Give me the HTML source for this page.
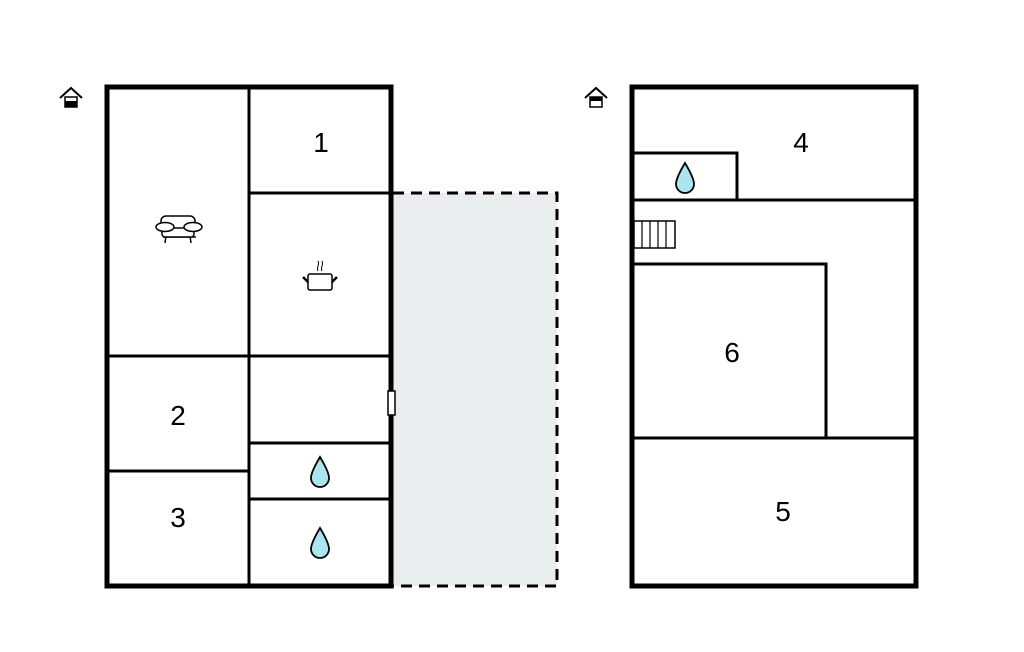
<!DOCTYPE html>
<html><head><meta charset="utf-8"><style>html,body{margin:0;padding:0;background:#fff}svg{display:block}</style></head>
<body>
<svg width="1024" height="652" viewBox="0 0 1024 652" xmlns="http://www.w3.org/2000/svg">
<rect width="1024" height="652" fill="#fff"/>
<!-- dashed terrace -->
<rect x="393" y="193" width="164" height="393" fill="#e9edee"/>
<path d="M393 193 H557 V586 H393" fill="none" stroke="#000" stroke-width="3" stroke-dasharray="11,7"/>
<!-- left building -->
<g stroke="#000" fill="none">
<rect x="107" y="87" width="284" height="499" stroke-width="5"/>
<line x1="249" y1="87" x2="249" y2="586" stroke-width="3"/>
<line x1="107" y1="356" x2="249" y2="356" stroke-width="3"/>
<line x1="107" y1="471" x2="249" y2="471" stroke-width="3"/>
<line x1="249" y1="193" x2="394" y2="193" stroke-width="3"/>
<line x1="249" y1="356" x2="391" y2="356" stroke-width="3"/>
<line x1="249" y1="443" x2="391" y2="443" stroke-width="3"/>
<line x1="249" y1="499" x2="391" y2="499" stroke-width="3"/>
</g>
<rect x="388" y="391" width="7" height="24" fill="#fff" stroke="#000" stroke-width="1.5"/>
<!-- right building -->
<g stroke="#000" fill="none">
<rect x="632" y="87" width="284" height="499" stroke-width="5"/>
<line x1="632" y1="200" x2="916" y2="200" stroke-width="3"/>
<polyline points="634,153 737,153 737,200" stroke-width="3"/>
<polyline points="634,264 826,264 826,438" stroke-width="3"/>
<line x1="632" y1="438" x2="916" y2="438" stroke-width="3"/>
<rect x="634" y="221" width="41" height="27" stroke-width="1.5"/>
<path d="M642 221V248M650 221V248M658 221V248M666 221V248" stroke-width="1.2"/>
</g>
<!-- drops -->
<g fill="#a9e6ef" stroke="#000" stroke-width="1.8">
<path d="M320 457 C326 467 329 474 329 478 A9 9 0 0 1 311 478 C311 474 314 467 320 457Z"/>
<path d="M320 528 C326 538 329 545 329 549 A9 9 0 0 1 311 549 C311 545 314 538 320 528Z"/>
<path d="M685 163 C691 173 694 180 694 184 A9 9 0 0 1 676 184 C676 180 679 173 685 163Z"/>
</g>
<!-- sofa -->
<g fill="#fff" stroke="#000" stroke-width="1.5">
<rect x="161" y="216" width="34" height="16" rx="5"/>
<path d="M163 237 L196 237 M176 233 L176 233"/>
<path d="M166 236 L165 243 M190 236 L191 243"/>
<rect x="162" y="228" width="32" height="9" rx="3"/>
<ellipse cx="165" cy="227" rx="9" ry="4.5"/>
<ellipse cx="193" cy="227" rx="9" ry="4.5"/>
</g>
<!-- pot -->
<g fill="none" stroke="#000" stroke-width="1.5">
<rect x="308" y="274" width="24" height="16" rx="2" fill="#fff"/>
<path d="M303 277 L308 282 M337 277 L332 282" stroke-width="2.5"/>
<path d="M318 271 C316 267 320 265 318 261 M322 271 C320 267 324 265 322 261" stroke-width="1"/>
</g>
<!-- house icons -->
<g>
<path d="M60 98 L71 88 L82 98" fill="none" stroke="#000" stroke-width="2"/>
<rect x="65" y="97" width="12" height="10" fill="#fff" stroke="#000" stroke-width="1.5"/>
<rect x="65" y="101" width="12" height="6" fill="#000"/>
<path d="M585 98 L596 88 L607 98" fill="none" stroke="#000" stroke-width="2"/>
<rect x="590" y="97" width="12" height="10" fill="#fff" stroke="#000" stroke-width="1.5"/>
<rect x="590" y="97" width="12" height="4" fill="#000"/>
</g>
<!-- labels -->
<g font-family="Liberation Sans, sans-serif" font-size="28" text-anchor="middle" fill="#000">
<text x="321" y="152">1</text>
<text x="178" y="425">2</text>
<text x="178" y="527">3</text>
<text x="801" y="152">4</text>
<text x="783" y="521">5</text>
<text x="732" y="362">6</text>
</g>
</svg>
</body></html>
